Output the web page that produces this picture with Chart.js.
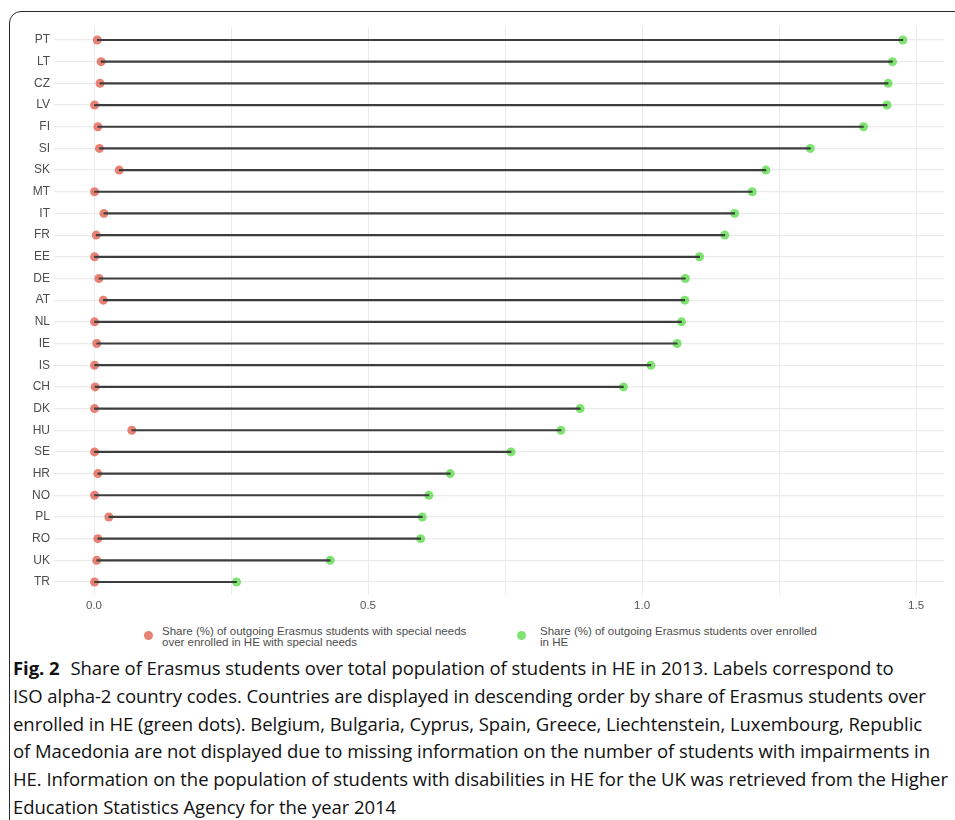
<!DOCTYPE html>
<html>
<head>
<meta charset="utf-8">
<script src="https://cdn.jsdelivr.net/npm/chart.js@4"></script>
<style>
  html, body { margin: 0; padding: 0; background: #fff; }
  body { width: 955px; height: 820px; position: relative; overflow: hidden; }
  .frame {
    position: absolute; left: 9px; top: 11px; width: 980px; height: 900px;
    border: 1.3px solid #2a2a2a; border-radius: 12px; box-sizing: border-box;
  }
  #wrap { position: absolute; left: 0; top: 0; width: 955px; height: 620px; }
  .legend { position: absolute; top: 626px; font-family: "Liberation Sans Narrow", "Liberation Sans", sans-serif;
    font-size: 11.5px; line-height: 11px; color: #4d4d4d; }
  .legend .dot { position: absolute; width: 9px; height: 9px; border-radius: 50%; top: 5px; }
  .legend .txt { position: absolute; top: 0; white-space: nowrap; }
  .caption { position: absolute; left: 13px; top: 654px; font-family: "Open Sans", sans-serif;
    font-size: 18.5px; line-height: 27.8px; color: #111; letter-spacing: -0.05px; }
  .caption div { white-space: nowrap; }
  .caption b { font-weight: 700; margin-right: 6px; }
</style>
</head>
<body>
<div class="frame"></div>
<div id="wrap"><canvas id="c" width="955" height="620"></canvas></div>

<div class="legend" style="left:0;">
  <span class="dot" style="left:144px;background:rgba(228,108,92,0.85);"></span>
  <span class="txt" style="left:162px;">Share (%) of outgoing Erasmus students with special needs<br>over enrolled in HE with special needs</span>
  <span class="dot" style="left:517px;background:rgba(105,222,88,0.85);"></span>
  <span class="txt" style="left:540px;">Share (%) of outgoing Erasmus students over enrolled<br>in HE</span>
</div>

<div class="caption">
  <div><b>Fig. 2</b> Share of Erasmus students over total population of students in HE in 2013. Labels correspond to</div>
  <div>ISO alpha-2 country codes. Countries are displayed in descending order by share of Erasmus students over</div>
  <div>enrolled in HE (green dots). Belgium, Bulgaria, Cyprus, Spain, Greece, Liechtenstein, Luxembourg, Republic</div>
  <div>of Macedonia are not displayed due to missing information on the number of students with impairments in</div>
  <div>HE. Information on the population of students with disabilities in HE for the UK was retrieved from the Higher</div>
  <div>Education Statistics Agency for the year 2014</div>
</div>

<script>
// Countries, top to bottom (ISO alpha-2)
const countries = ['PT','LT','CZ','LV','FI','SI','SK','MT','IT','FR','EE','DE','AT','NL','IE','IS','CH','DK','HU','SE','HR','NO','PL','RO','UK','TR'];

// Share (%) of outgoing Erasmus students with special needs over enrolled in HE with special needs
const specialNeedsShare = [0.006,0.013,0.011,0.001,0.007,0.010,0.046,0.001,0.018,0.004,0.001,0.009,0.017,0.001,0.005,0.001,0.002,0.001,0.069,0.001,0.007,0.001,0.027,0.007,0.005,0.001];

// Share (%) of outgoing Erasmus students over enrolled in HE
const overallShare = [1.476,1.457,1.449,1.447,1.404,1.307,1.226,1.201,1.169,1.151,1.105,1.079,1.078,1.072,1.064,1.016,0.966,0.887,0.852,0.761,0.650,0.611,0.599,0.596,0.431,0.260];

// Vertical grid positions and the labelled ones
const xGridValues = [0, 0.25, 0.5, 0.75, 1.0, 1.25, 1.5];
const xTickLabels = {0: '0.0', 0.5: '0.5', 1: '1.0', 1.5: '1.5'};

const rowIdx = countries.map((_, i) => i);

const segments = rowIdx.map(i => ({ y: i, x: [specialNeedsShare[i], overallShare[i]] }));
const redPts = rowIdx.map(i => ({ x: specialNeedsShare[i], y: i }));
const greenPts = rowIdx.map(i => ({ x: overallShare[i], y: i }));

const gridColor = '#ebebeb';
const tickFont = { family: '"Liberation Sans Narrow", "Liberation Sans", sans-serif', size: 11.5 };

new Chart(document.getElementById('c'), {
  type: 'bar',
  data: {
    datasets: [
      {
        type: 'bar',
        label: 'segment',
        data: segments,
        backgroundColor: '#3d3d3d',
        borderWidth: 0,
        barThickness: 1.5,
        order: 0
      },
      {
        type: 'scatter',
        label: 'Share (%) of outgoing Erasmus students with special needs over enrolled in HE with special needs',
        data: redPts,
        backgroundColor: 'rgba(228,108,92,0.85)',
        borderWidth: 0,
        pointRadius: 4.5,
        order: 1
      },
      {
        type: 'scatter',
        label: 'Share (%) of outgoing Erasmus students over enrolled in HE',
        data: greenPts,
        backgroundColor: 'rgba(105,222,88,0.85)',
        borderWidth: 0,
        pointRadius: 4.5,
        order: 2
      }
    ]
  },
  options: {
    indexAxis: 'y',
    responsive: false,
    animation: false,
    layout: { padding: { left: 0, right: 11, top: 27, bottom: 0 } },
    plugins: { legend: { display: false }, tooltip: { enabled: false } },
    scales: {
      x: {
        type: 'linear',
        min: -0.073,
        max: 1.551,
        offset: false,
        afterBuildTicks: s => { s.ticks = xGridValues.map(v => ({ value: v })); },
        afterFit: s => { s.height = 25; s.paddingLeft = 0; s.paddingRight = 0; },
        grid: { color: gridColor, lineWidth: 1, drawTicks: false, offset: false },
        border: { display: false },
        ticks: {
          padding: 4,
          color: '#555',
          font: tickFont,
          autoSkip: false,
          maxRotation: 0,
          callback: v => (xTickLabels[v] !== undefined ? xTickLabels[v] : '')
        }
      },
      y: {
        type: 'linear',
        reverse: true,
        offset: false,
        min: -0.6,
        max: countries.length - 1 + 0.6,
        afterBuildTicks: s => { s.ticks = rowIdx.map(i => ({ value: i })); },
        afterFit: s => { s.width = 54; s.paddingTop = 0; s.paddingBottom = 0; },
        grid: { color: gridColor, lineWidth: 1.2, drawTicks: false, offset: false },
        border: { display: false },
        ticks: {
          padding: 4,
          color: '#4d4d4d',
          font: { family: tickFont.family, size: 12 },
          autoSkip: false,
          callback: v => countries[v]
        }
      }
    }
  }
});
</script>
</body>
</html>
